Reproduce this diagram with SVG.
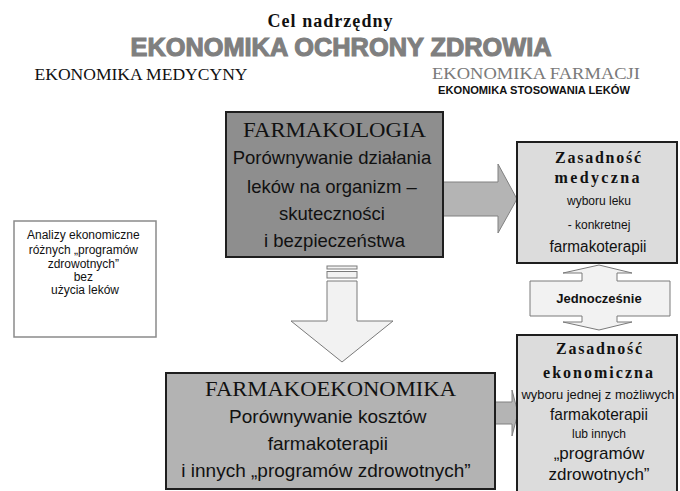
<svg xmlns="http://www.w3.org/2000/svg" width="680" height="491" viewBox="0 0 680 491">
<style>
.serif{font-family:"Liberation Serif","Times New Roman",serif}
.sans{font-family:"Liberation Sans",Arial,sans-serif}
.box{stroke:#1e1e1e;stroke-width:2}
.arrowLight{fill:#f2f2f2;stroke:#7a7a7a;stroke-width:1}
.arrowGray{fill:#b4b4b4;stroke:#808080;stroke-width:1}
text{text-anchor:middle;fill:#111}
</style>
<rect width="680" height="491" fill="#ffffff"/>
<g id="titles">
<text class="serif" x="330" y="27" font-size="18" font-weight="bold" textLength="125">Cel  nadrzędny</text>
<text class="sans" x="341" y="56" font-size="25" font-weight="bold" stroke="#7f7f7f" stroke-width="1.1" textLength="421" lengthAdjust="spacingAndGlyphs" style="fill:#7f7f7f">EKONOMIKA OCHRONY ZDROWIA</text>
<text class="serif" x="141" y="80" font-size="17.5" textLength="213" lengthAdjust="spacingAndGlyphs">EKONOMIKA MEDYCYNY</text>
<text class="serif" x="536" y="79" font-size="17.5" textLength="208" lengthAdjust="spacingAndGlyphs" style="fill:#7a7a7a">EKONOMIKA FARMACJI</text>
<text class="sans" x="534" y="94" font-size="11" font-weight="bold" textLength="192" lengthAdjust="spacingAndGlyphs">EKONOMIKA STOSOWANIA LEKÓW</text>
</g>
<g id="connectors">
<polygon class="arrowGray" points="443,182 498,182 498,164 517,199 498,233 498,216 443,216"/>
<polygon class="arrowGray" points="495,402 512,402 512,390 518,413 512,436 512,424 495,424"/>
<rect class="arrowLight" x="327" y="266" width="30" height="3"/>
<rect class="arrowLight" x="327" y="271.5" width="30" height="6.5"/>
<polygon class="arrowLight" points="327,281 357,281 357,321 393,321 342,362 291,321 327,321"/>
</g>
<g id="jednoczesnie">
<polygon class="arrowLight" points="599,265 632,273 617,273 617,281 670,281 670,316 617,316 617,322 632,322 599,330 563,322 582,322 582,316 530,316 530,281 582,281 582,273 563,273"/>
<text class="sans" x="599" y="303" font-size="13" font-weight="bold">Jednocześnie</text>
</g>
<g id="analizy">
<rect x="14" y="221" width="142" height="116" fill="#ffffff" stroke="#8a8a8a" stroke-width="1.5"/>
<text class="sans" font-size="12">
<tspan x="85" y="239">Analizy ekonomiczne</tspan>
<tspan x="85" y="254">różnych „programów</tspan>
<tspan x="85" y="268">zdrowotnych”</tspan>
<tspan x="85" y="281">bez</tspan>
<tspan x="85" y="294">użycia leków</tspan>
</text>
</g>
<g id="farmakologia">
<rect class="box" x="226" y="112" width="217" height="145" fill="#8e8e8e"/>
<text class="serif" x="334.5" y="137" font-size="22" textLength="183" lengthAdjust="spacingAndGlyphs">FARMAKOLOGIA</text>
<text class="sans" font-size="18.5">
<tspan x="334.5" y="164">Porównywanie działania</tspan>
<tspan x="334.5" y="193">leków na organizm –</tspan>
<tspan x="334.5" y="220">skuteczności</tspan>
<tspan x="334.5" y="247">i bezpieczeństwa</tspan>
</text>
</g>
<g id="zasadnosc-medyczna">
<rect class="box" x="517" y="142" width="160" height="121" fill="#dcdcdc"/>
<text class="serif" x="598" y="163" font-size="16" font-weight="bold" textLength="86">Zasadność</text>
<text class="serif" x="597" y="183" font-size="16" font-weight="bold" textLength="85">medyczna</text>
<text class="sans" x="599" y="205" font-size="12">wyboru leku</text>
<text class="sans" x="599" y="229" font-size="12">- konkretnej</text>
<text class="sans" x="598" y="252" font-size="16" textLength="97" lengthAdjust="spacingAndGlyphs">farmakoterapii</text>
</g>
<g id="zasadnosc-ekonomiczna">
<rect class="box" x="517" y="335" width="160" height="170" fill="#dcdcdc"/>
<text class="serif" x="599" y="354" font-size="16" font-weight="bold" textLength="86">Zasadność</text>
<text class="serif" x="598" y="378" font-size="16" font-weight="bold" textLength="110">ekonomiczna</text>
<text class="sans" x="598" y="399" font-size="12.5" textLength="153" lengthAdjust="spacingAndGlyphs">wyboru jednej z możliwych</text>
<text class="sans" x="599" y="420" font-size="17" textLength="98" lengthAdjust="spacingAndGlyphs">farmakoterapii</text>
<text class="sans" x="599" y="438" font-size="12">lub innych</text>
<text class="sans" x="599" y="459" font-size="17">„programów</text>
<text class="sans" x="599" y="480" font-size="17">zdrowotnych”</text>
</g>
<g id="farmakoekonomika">
<rect class="box" x="166" y="373" width="329" height="116" fill="#b3b3b3"/>
<text class="serif" x="330.5" y="396" font-size="22" textLength="251" lengthAdjust="spacingAndGlyphs">FARMAKOEKONOMIKA</text>
<text class="sans" font-size="19">
<tspan x="330.5" y="423">Porównywanie kosztów</tspan>
<tspan x="330.5" y="450">farmakoterapii</tspan>
<tspan x="326" y="477">i innych „programów zdrowotnych”</tspan>
</text>
</g>
</svg>
